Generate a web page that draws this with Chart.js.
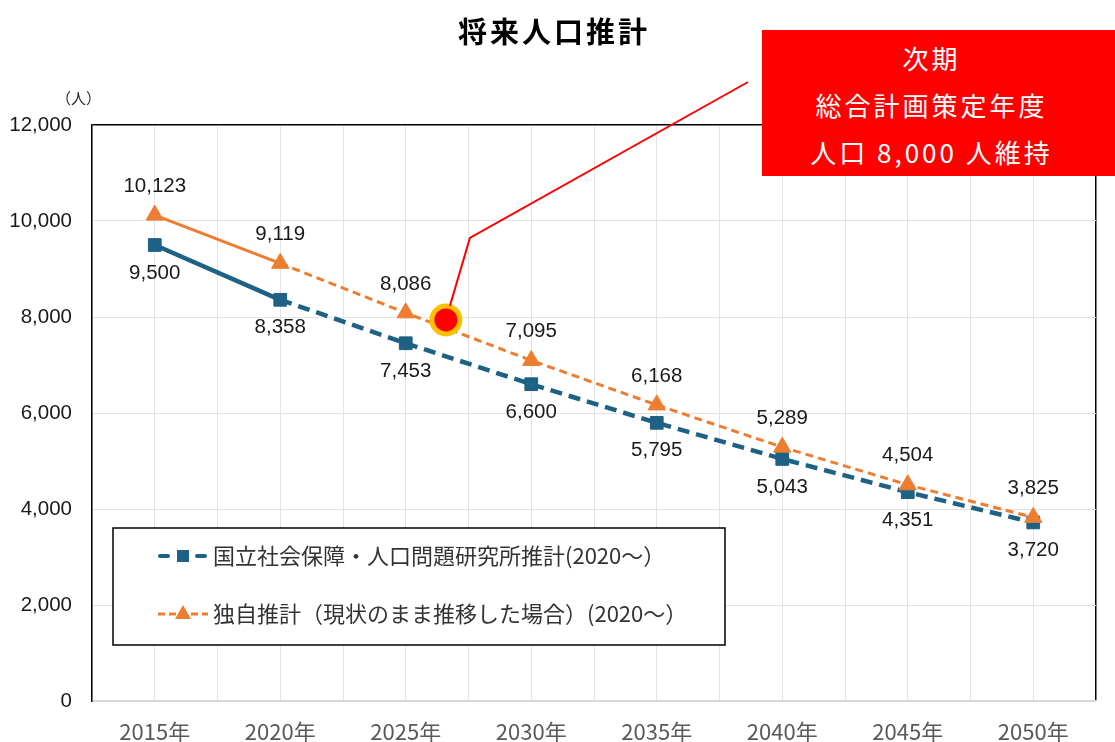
<!DOCTYPE html>
<html lang="ja">
<head>
<meta charset="utf-8">
<title>将来人口推計</title>
<script src="https://cdn.jsdelivr.net/npm/chart.js@4.4.1/dist/chart.umd.min.js"></script>
<style>
  html, body { margin: 0; padding: 0; background: #fff; }
  #wrap { position: relative; width: 1115px; height: 742px; }
  #title {
    position: absolute; left: 0; top: 9px; width: 1108px;
    text-align: center; font: bold 29px "Noto Sans CJK JP", sans-serif;
    letter-spacing: 3px; color: #000;
  }
  #unit {
    position: absolute; left: 56px; top: 87px;
    font: 15px "Noto Sans CJK JP", sans-serif; color: #262626;
  }
  #callout {
    position: absolute; left: 762px; top: 30px; width: 353px; height: 146px;
    background: #ff0000; color: #fff; text-align: center;
    font: 26px "Noto Sans CJK JP", sans-serif; letter-spacing: 3px;
    line-height: 47px; padding-top: 4px; padding-right: 14px; box-sizing: border-box;
  }
</style>
</head>
<body>
<div id="wrap">
  <canvas id="chart" width="1115" height="742"></canvas>
  <div id="title">将来人口推計</div>
  <div id="unit">（人）</div>
  <div id="callout">次期<br>総合計画策定年度<br>人口 8,000 人維持</div>
</div>
<script>
// data
const years = ['2015年', '2020年', '2025年', '2030年', '2035年', '2040年', '2045年', '2050年'];
const ipssValues = [9500, 8358, 7453, 6600, 5795, 5043, 4351, 3720];
const ownValues = [10123, 9119, 8086, 7095, 6168, 5289, 4504, 3825];
const targetX = [2.32];      // between 2025 and 2030
const targetY = [7940];
const legendLabels = ['国立社会保障・人口問題研究所推計(2020～）', '独自推計（現状のまま推移した場合）(2020～）'];

const BLUE = '#1d6184';
const ORANGE = '#ed7d31';

const toPoints = vals => vals.map((v, i) => ({ x: i, y: v }));

// value labels: blue below, orange above
const valueLabels = {
  id: 'valueLabels',
  afterDatasetsDraw(chart) {
    const ctx = chart.ctx;
    ctx.save();
    ctx.font = '20.5px "Liberation Sans", Arial, sans-serif';
    ctx.fillStyle = '#1a1a1a';
    ctx.textAlign = 'center';
    ctx.textBaseline = 'middle';
    [[1, 28], [2, -29]].forEach(([di, off]) => {
      const meta = chart.getDatasetMeta(di);
      meta.data.forEach((pt, i) => {
        const v = chart.data.datasets[di].data[i].y;
        ctx.fillText(v.toLocaleString('en-US'), pt.x, pt.y + off);
      });
    });
    ctx.restore();
  }
};

// red leader line from the marker to the callout box
const calloutLine = {
  id: 'calloutLine',
  afterDraw(chart) {
    const p = chart.getDatasetMeta(0).data[0];
    const ctx = chart.ctx;
    ctx.save();
    ctx.strokeStyle = '#ff0000';
    ctx.lineWidth = 2;
    ctx.beginPath();
    ctx.moveTo(p.x + 4, p.y - 14);
    ctx.lineTo(p.x + 24, p.y - 82);
    ctx.lineTo(748, 82);
    ctx.stroke();
    ctx.restore();
  }
};

// boxed legend inside the plot
const boxLegend = {
  id: 'boxLegend',
  afterDraw(chart) {
    const ctx = chart.ctx;
    ctx.save();
    ctx.fillStyle = '#fff';
    ctx.fillRect(113, 528, 612, 117);
    ctx.strokeStyle = '#000';
    ctx.lineWidth = 1.5;
    ctx.strokeRect(113, 528, 612, 117);

    // blue entry
    let y = 556;
    ctx.strokeStyle = BLUE;
    ctx.lineWidth = 4;
    ctx.lineCap = 'round';
    ctx.beginPath();
    ctx.moveTo(160, y); ctx.lineTo(168, y);
    ctx.moveTo(197, y); ctx.lineTo(205, y);
    ctx.stroke();
    ctx.fillStyle = BLUE;
    ctx.fillRect(177, y - 6, 12, 12);

    // orange entry
    y = 614;
    ctx.strokeStyle = ORANGE;
    ctx.lineWidth = 3;
    ctx.lineCap = 'butt';
    ctx.setLineDash([7, 4]);
    ctx.beginPath();
    ctx.moveTo(158, y); ctx.lineTo(208, y);
    ctx.stroke();
    ctx.setLineDash([]);
    ctx.fillStyle = ORANGE;
    ctx.beginPath();
    ctx.moveTo(183, y - 9);
    ctx.lineTo(191, y + 5);
    ctx.lineTo(175, y + 5);
    ctx.closePath();
    ctx.fill();

    ctx.fillStyle = '#333';
    ctx.font = '22px "Noto Sans CJK JP", sans-serif';
    ctx.textBaseline = 'middle';
    ctx.fillText(legendLabels[0], 213, 556);
    ctx.fillText(legendLabels[1], 213, 614);
    ctx.restore();
  }
};

new Chart(document.getElementById('chart'), {
  type: 'line',
  data: {
    datasets: [
      {
        label: 'target',
        data: targetX.map((x, i) => ({ x: x, y: targetY[i] })),
        showLine: false,
        pointRadius: 14,
        pointBorderWidth: 5,
        pointBackgroundColor: '#ff0000',
        pointBorderColor: '#ffc000',
        order: 0
      },
      {
        label: legendLabels[0],
        data: toPoints(ipssValues),
        borderColor: BLUE,
        borderWidth: 4.5,
        pointStyle: 'rect',
        pointRadius: 9,
        pointBackgroundColor: BLUE,
        pointBorderColor: BLUE,
        pointBorderWidth: 1,
        segment: {
          borderDash: ctx => ctx.p0DataIndex >= 1 ? [12, 7] : []
        },
        order: 2
      },
      {
        label: legendLabels[1],
        data: toPoints(ownValues),
        borderColor: ORANGE,
        borderWidth: 3,
        pointStyle: 'triangle',
        pointRadius: 10,
        pointBackgroundColor: ORANGE,
        pointBorderColor: ORANGE,
        pointBorderWidth: 1,
        segment: {
          borderDash: ctx => ctx.p0DataIndex >= 1 ? [8, 5] : []
        },
        order: 1
      }
    ]
  },
  options: {
    responsive: false,
    animation: false,
    events: [],
    layout: { padding: { left: 0, right: 15, top: 125, bottom: 0 } },
    plugins: {
      legend: { display: false },
      title: { display: false },
      tooltip: { enabled: false }
    },
    scales: {
      x: {
        type: 'linear',
        min: -0.5,
        max: 7.5,
        afterFit: s => { s.height = 41; },
        ticks: {
          stepSize: 0.5,
          autoSkip: false,
          maxRotation: 0,
          padding: 17,
          color: '#595959',
          font: { family: '"Noto Sans CJK JP", sans-serif', size: 22 },
          callback: v => Number.isInteger(v) && years[v] ? years[v] : ''
        },
        grid: {
          drawTicks: false,
          tickLength: 0,
          color: c => c.tick && c.tick.value === 7.5 ? '#000' : '#e3e3e3',
          lineWidth: c => c.tick && c.tick.value === 7.5 ? 1.5 : 1
        },
        border: { display: true, color: '#d9d9d9', width: 1.5 }
      },
      y: {
        min: 0,
        max: 12000,
        afterFit: s => { s.width = 92; },
        ticks: {
          stepSize: 2000,
          padding: 20,
          color: '#1a1a1a',
          font: { family: '"Liberation Sans", Arial, sans-serif', size: 20.5 },
          callback: v => v.toLocaleString('en-US')
        },
        grid: {
          drawTicks: false,
          tickLength: 0,
          color: c => c.tick && c.tick.value === 12000 ? '#000' : (c.tick && c.tick.value === 0 ? '#d9d9d9' : '#e3e3e3'),
          lineWidth: c => c.tick && c.tick.value === 12000 ? 1.5 : 1
        },
        border: { display: true, color: '#000', width: 1.5 }
      }
    }
  },
  plugins: [valueLabels, boxLegend, calloutLine]
});
</script>
</body>
</html>
